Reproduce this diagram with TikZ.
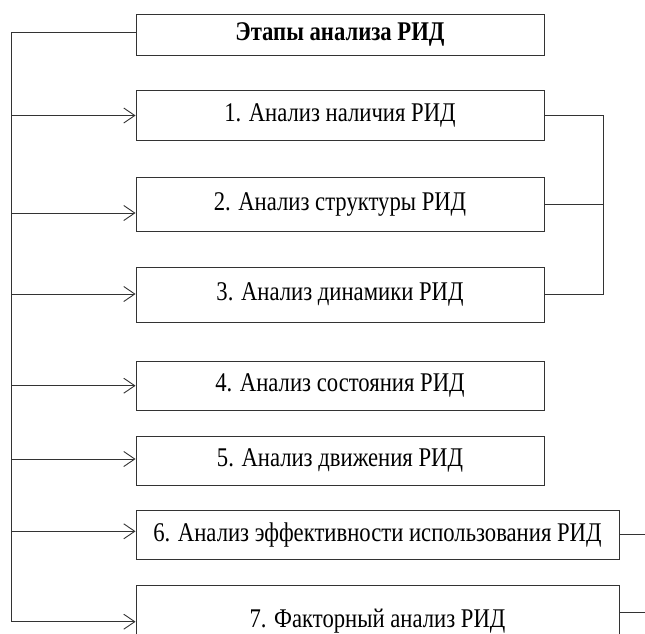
\documentclass[tikz,border=0pt]{standalone}
\usepackage{fontspec}
\setmainfont{Liberation Serif}[FakeStretch=0.84]
\usetikzlibrary{arrows.meta,calc}
\definecolor{linec}{HTML}{333333}
\tikzset{
  stagebox/.style={draw=linec, line width=0.9pt, inner sep=0pt, align=center,
    font=\fontsize{27}{30}\selectfont, text=black},
  link/.style={draw=linec, line width=0.9pt},
  arr/.style={link, -{Straight Barb[length=11pt,width=15pt,line width=0.9pt]}}
}
\begin{document}
\begin{tikzpicture}[x=1pt,y=-1pt]
\useasboundingbox (0,0) rectangle (645,633);
\clip (0,0) rectangle (645,633);
% boxes
\node[stagebox, minimum width=408pt, minimum height=41pt, font=\fontsize{27}{30}\selectfont\bfseries] (top) at (340,34.5) {Этапы анализа РИД};
\node[stagebox, minimum width=408pt, minimum height=50pt] (b1) at (340,115) {1. Анализ наличия РИД};
\node[stagebox, minimum width=408pt, minimum height=54pt] (b2) at (340,204) {2. Анализ структуры РИД};
\node[stagebox, minimum width=408pt, minimum height=55pt] (b3) at (340,294.5) {3. Анализ динамики РИД};
\node[stagebox, minimum width=408pt, minimum height=49pt] (b4) at (340,385.5) {4. Анализ состояния РИД};
\node[stagebox, minimum width=408pt, minimum height=49pt] (b5) at (340,460.5) {5. Анализ движения РИД};
\node[stagebox, minimum width=483pt, minimum height=49pt] (b6) at (377.5,534.5) {6. Анализ эффективности использования РИД};
\node[stagebox, minimum width=483pt, minimum height=72pt] (b7) at (377.5,621) {7. Факторный анализ РИД};
% trunk coordinates
\coordinate (t0) at (11.5,32);
\coordinate (t1) at (11.5,115.5);
\coordinate (t2) at (11.5,213);
\coordinate (t3) at (11.5,294);
\coordinate (t4) at (11.5,385.7);
\coordinate (t5) at (11.5,459);
\coordinate (t6) at (11.5,531.3);
\coordinate (t7) at (11.5,621.7);
% trunk
\draw[link] (t0 -| top.west) -- (t0) -- (t7);
\foreach \i in {1,...,7} {
  \draw[arr] (t\i) -- (t\i -| b\i.west);
}
% right bracket
\coordinate (bx) at (603,204);
\draw[link] (t1 -| b1.east) -- (t1 -| bx) -- (t3 -| bx) -- (t3 -| b3.east);
\draw[link] (b2.east |- bx) -- (bx);
% right free lines
\coordinate (e6) at (645,534.7);
\coordinate (e7) at (645,612);
\draw[link] (e6 -| b6.east) -- (e6);
\draw[link] (e7 -| b7.east) -- (e7);
\end{tikzpicture}
\end{document}
